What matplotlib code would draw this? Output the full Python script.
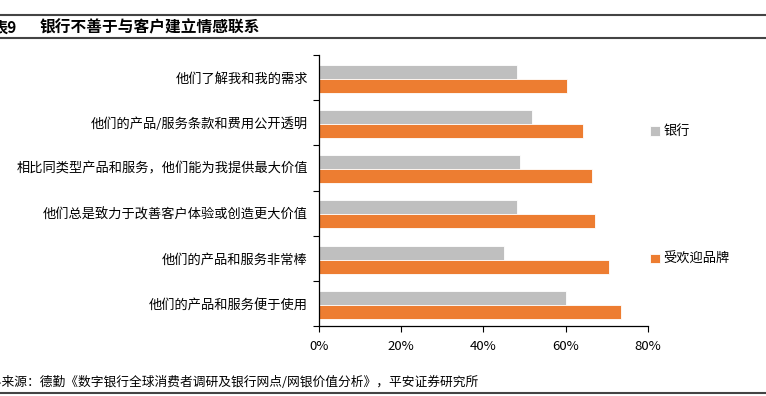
import matplotlib
matplotlib.use("Agg")
import matplotlib.pyplot as plt
import numpy as np
from matplotlib.ticker import FuncFormatter, FixedLocator

plt.rcParams['font.family'] = ['Noto Sans CJK SC', 'DejaVu Sans']

categories = ["他们了解我和我的需求",
              "他们的产品/服务条款和费用公开透明",
              "相比同类型产品和服务，他们能为我提供最大价值",
              "他们总是致力于改善客户体验或创造更大价值",
              "他们的产品和服务非常棒",
              "他们的产品和服务便于使用"]
bank = [48.1, 51.9, 48.9, 48.1, 45.1, 60.1]
popular = [60.4, 64.2, 66.3, 67.2, 70.4, 73.4]
series_names = ["银行", "受欢迎品牌"]
xticks = [0, 20, 40, 60, 80]

title_num = "表9"
title_text = "银行不善于与客户建立情感联系"
source_text = "资料来源：德勤《数字银行全球消费者调研及银行网点/网银价值分析》，平安证券研究所"

fig = plt.figure(figsize=(7.66, 3.96), dpi=100)
ax = fig.add_axes([0.4164, 0.1768, 0.846 - 0.4164, 0.861 - 0.1768])

y = np.arange(len(categories))
h = 0.31
b1 = ax.barh(y - h / 2 + 0.03, bank, height=h, color="#BFBFBF", edgecolor="white", linewidth=0.6, label=series_names[0])
b2 = ax.barh(y + h / 2 + 0.03, popular, height=h, color="#ED7D31", edgecolor="white", linewidth=0.6, label=series_names[1])

ax.set_ylim(len(categories) - 0.5, -0.5)
ax.set_xlim(0, 80)
ax.set_yticks(y)
ax.set_yticklabels(categories, fontsize=9.5)
ax.yaxis.set_minor_locator(FixedLocator(np.arange(-0.5, len(categories), 1)))
ax.tick_params(axis='y', which='major', length=0, pad=8)
ax.tick_params(axis='y', which='minor', length=4, width=0.8, direction='out')
ax.set_xticks(xticks)
ax.xaxis.set_major_formatter(FuncFormatter(lambda v, p: f"{int(v)}%"))
ax.tick_params(axis='x', length=4, width=0.8, labelsize=9.5, pad=6)
for s in ['top', 'right']:
    ax.spines[s].set_visible(False)
for s in ['left', 'bottom']:
    ax.spines[s].set_linewidth(0.9)

ax.legend(handles=[b1, b2], loc='upper left', bbox_to_anchor=(0.99, 0.76),
          frameon=False, fontsize=9.5, handlelength=0.75, handleheight=0.75,
          handletextpad=0.25, labelspacing=8.7, borderaxespad=0)

# header lines and title
fig.add_artist(plt.Line2D([0, 1], [1 - 15 / 396, 1 - 15 / 396], color="#444444", linewidth=1.5))
fig.add_artist(plt.Line2D([0, 1], [1 - 38 / 396, 1 - 38 / 396], color="#444444", linewidth=1.5))
fig.text(-0.009, 1 - 27 / 396, title_num, fontsize=11, fontweight='bold', va='center', ha='left')
fig.text(40 / 766, 1 - 27 / 396, title_text, fontsize=11.3, fontweight='bold', va='center', ha='left')

# footer
fig.text(-0.031, 1 - 382 / 396, source_text, fontsize=9.2, va='center', ha='left', style='italic')
fig.add_artist(plt.Line2D([0, 1], [1 - 393 / 396, 1 - 393 / 396], color="#444444", linewidth=1.5))

fig.savefig("out.png", dpi=100)
